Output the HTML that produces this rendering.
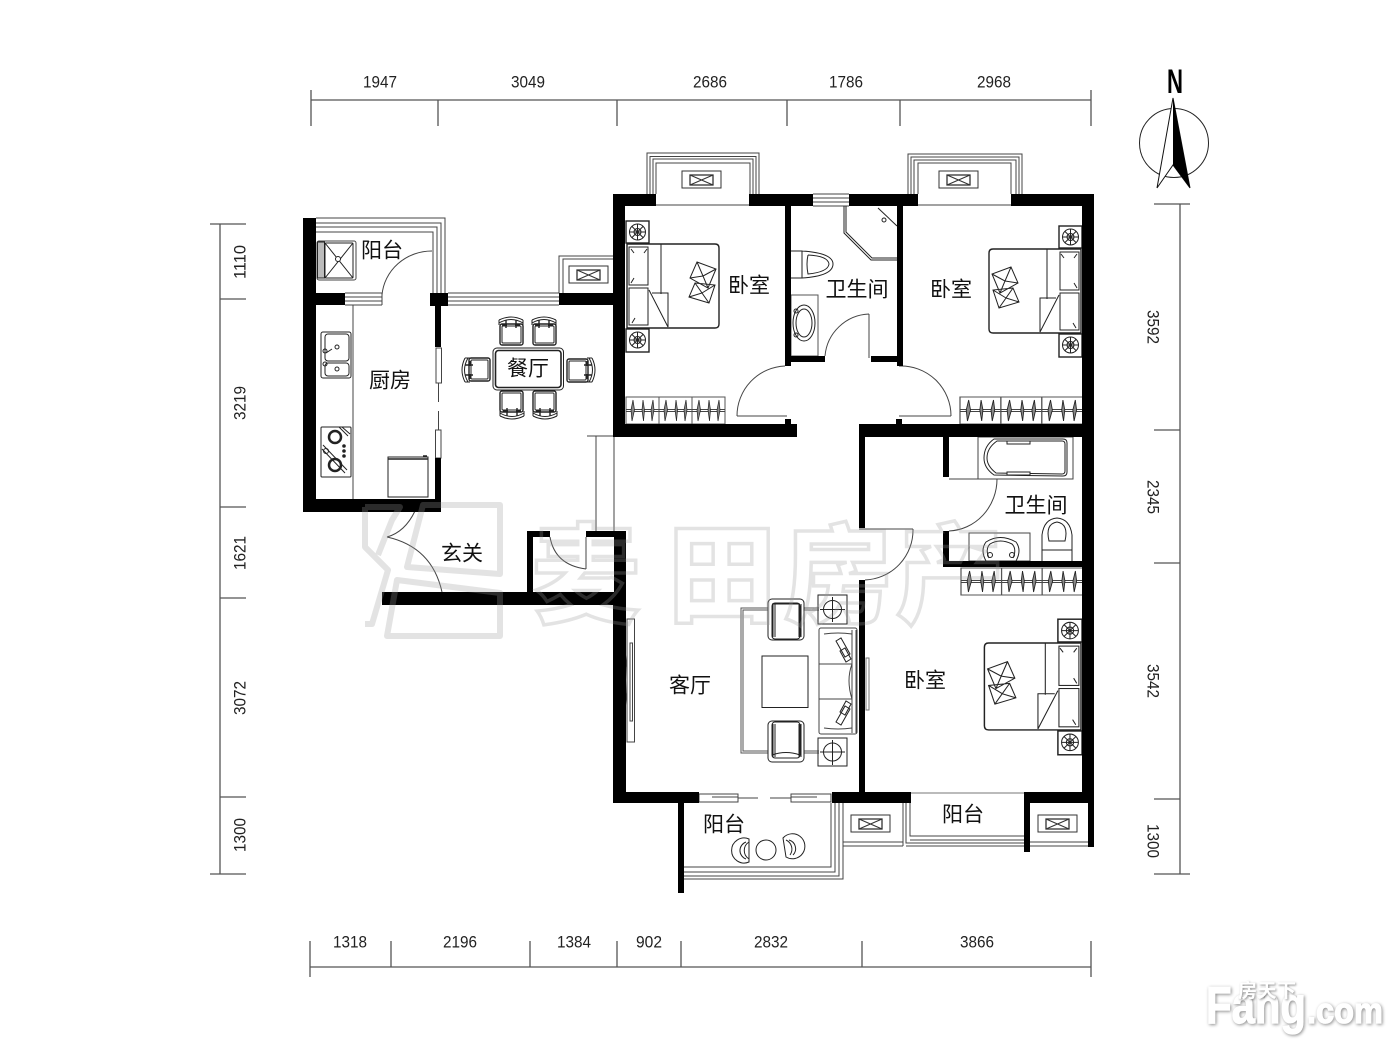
<!DOCTYPE html>
<html><head><meta charset="utf-8"><style>
html,body{margin:0;padding:0;background:#fff;width:1400px;height:1050px;overflow:hidden}
svg{display:block}
.cn{font-family:"Liberation Sans","Noto Sans CJK SC",sans-serif;font-size:21px;fill:#111;text-anchor:middle;dominant-baseline:central}
.d{font-family:"Liberation Sans",sans-serif;font-size:17px;fill:#222;text-anchor:middle;dominant-baseline:central}
</style></head><body>
<svg width="1400" height="1050" viewBox="0 0 1400 1050" xmlns="http://www.w3.org/2000/svg">
<defs>
<g id="wheel"><circle r="8" fill="none"/><circle r="3.5" fill="none"/><path d="M-8 0H8M0-8V8M-5.6-5.6L5.6 5.6M-5.6 5.6L5.6-5.6"/></g>
<g id="bed" fill="none" stroke="#222" stroke-width="1">
<path d="M0 0H88q4 0 4 4V80q0 4-4 4H0Z" stroke-width="1.4"/>
<path d="M34 0V50M22 46L41 83V49H25"/>
<rect x="2" y="3" width="19" height="38"/><rect x="2" y="44" width="19" height="37"/>
<path d="M4 5l3 4M20 5l-3 4M4 39l3-5M5 79l3-5"/>
<path d="M70 18L89 25L81 44L63 34ZM68 39L88 41L82 59L62 53ZM70 18L76 32L63 34M89 25L76 32L81 44M68 39L75 49L62 53M88 41L75 49L82 59"/>
<rect x="-1" y="-23" width="23" height="22" stroke-width="1.4"/><use href="#wheel" x="10.5" y="-12"/>
<rect x="-1" y="85" width="23" height="23" stroke-width="1.4"/><use href="#wheel" x="10.5" y="96"/>
</g>
<g id="ward" fill="#fff" stroke="#222" stroke-width="1">
<rect x="0" y="0" width="33" height="27" stroke="#555"/>
<path d="M0 12.5H33M0 14.5H33" stroke="#444"/>
<path d="M7 3l1.500 10L6 24l-1-11ZM17 3l1.500 10L17.500 24l-1.500-11ZM27 3l1 10L26 24l-1-11Z" fill="#888" stroke-width=".7"/>
</g>
<g id="chair" fill="none" stroke="#222" stroke-width="1">
<rect x="-11" y="-7" width="23" height="21" rx="2" stroke-width="1.400"/>
<rect x="-9" y="-5" width="19" height="17" rx="1"/>
<path d="M-12-8Q0-15 12-8M-12-11Q0-17 12-11M-12-11V-6M12-11V-6"/>
<path d="M-5-11V-3M5-11V-3M-9-6H-4M9-6H4" stroke-width="1.400"/>
</g>
<g id="ac" fill="#fff" stroke="#333" stroke-width="1">
<rect x="0" y="0" width="39" height="17"/>
<rect x="8" y="4" width="23" height="10" stroke-width="1.300"/>
<path d="M8 4L31 14M8 14L31 4"/>
</g>
</defs>
<!-- watermark behind nothing: drawn last below labels -->
<!-- dimensions -->
<g stroke="#555" stroke-width="1.300" fill="none">
<path d="M311 100H1091M311 90V126M438 100V126M617 100V126M787 100V126M900 100V126M1091 90V126"/>
<path d="M310 967H1091M310 941V977M391 941V967M530 941V967M617 941V967M681 941V967M862 941V967M1091 941V977"/>
<path d="M220 224V874M210 224H246M220 299H246M220 507H246M220 598H246M220 797H246M210 874H246"/>
<path d="M1180 204V874M1154 204H1190M1154 430H1180M1154 563H1180M1154 799H1180M1154 874H1190"/>
</g>
<g class="dims">
<text class="d" x="380" y="82" textLength="34" lengthAdjust="spacingAndGlyphs">1947</text><text class="d" x="528" y="82" textLength="34" lengthAdjust="spacingAndGlyphs">3049</text><text class="d" x="710" y="82" textLength="34" lengthAdjust="spacingAndGlyphs">2686</text><text class="d" x="846" y="82" textLength="34" lengthAdjust="spacingAndGlyphs">1786</text><text class="d" x="994" y="82" textLength="34" lengthAdjust="spacingAndGlyphs">2968</text>
<text class="d" x="350" y="942" textLength="34" lengthAdjust="spacingAndGlyphs">1318</text><text class="d" x="460" y="942" textLength="34" lengthAdjust="spacingAndGlyphs">2196</text><text class="d" x="574" y="942" textLength="34" lengthAdjust="spacingAndGlyphs">1384</text><text class="d" x="649" y="942" textLength="26" lengthAdjust="spacingAndGlyphs">902</text><text class="d" x="771" y="942" textLength="34" lengthAdjust="spacingAndGlyphs">2832</text><text class="d" x="977" y="942" textLength="34" lengthAdjust="spacingAndGlyphs">3866</text>
<text class="d" transform="translate(240 262) rotate(-90)" textLength="34" lengthAdjust="spacingAndGlyphs">1110</text><text class="d" transform="translate(240 403) rotate(-90)" textLength="34" lengthAdjust="spacingAndGlyphs">3219</text><text class="d" transform="translate(240 553) rotate(-90)" textLength="34" lengthAdjust="spacingAndGlyphs">1621</text><text class="d" transform="translate(240 698) rotate(-90)" textLength="34" lengthAdjust="spacingAndGlyphs">3072</text><text class="d" transform="translate(240 835) rotate(-90)" textLength="34" lengthAdjust="spacingAndGlyphs">1300</text>
<text class="d" transform="translate(1153 327) rotate(90)" textLength="34" lengthAdjust="spacingAndGlyphs">3592</text><text class="d" transform="translate(1153 497) rotate(90)" textLength="34" lengthAdjust="spacingAndGlyphs">2345</text><text class="d" transform="translate(1153 681) rotate(90)" textLength="34" lengthAdjust="spacingAndGlyphs">3542</text><text class="d" transform="translate(1153 841) rotate(90)" textLength="34" lengthAdjust="spacingAndGlyphs">1300</text>
</g>
<!-- compass -->
<circle cx="1174" cy="143" r="34.500" fill="none" stroke="#222" stroke-width="1"/>
<path d="M1173 98L1157 188L1173 165L1190 188Z" fill="#fff" stroke="#111" stroke-width="1"/>
<path d="M1173 98L1190 188L1173 165Z" fill="#000"/>
<text x="1167" y="93" style="font-family:'Liberation Sans',sans-serif;font-size:34px;font-weight:700" fill="#000" textLength="16" lengthAdjust="spacingAndGlyphs">N</text>
<!-- thin lines, rails, openings -->
<g fill="none" stroke="#444" stroke-width="1">
<path d="M316 218H445V293M316 223H441V293M316 227H437V293M316 232H433V293"/>
<path d="M345 293H382M345 297H382M345 301H382M345 305H382M382 293V305"/>
<path d="M382 295A50 48 0 0 1 432 251"/>
<path d="M448 293H559M448 297H559M448 301H559M448 305H559M559 293V256H613M563 293V259H613"/>
<use href="#ac" x="569" y="266"/>
<path d="M647 194V153H759V194M650 194V156.500H756V194M653 194V159H753V194M656 194V163H750V194M656 205H749"/>
<use href="#ac" x="682" y="171"/>
<path d="M908 194V154H1022V194M911 194V157H1019V194M914 194V160H1016V194M918 194V163H1011V194M918 205H1011"/>
<use href="#ac" x="939" y="171"/>
<path d="M813 194H849M813 198H849M813 202H849M813 206H849"/>
<path d="M353 305V499M587 436H613M596 436V531M614 436V531"/>
<rect x="436" y="348" width="5.500" height="35"/><rect x="435.500" y="430" width="5.500" height="28"/>
<path d="M438.500 383V402M438.500 411V430"/>
<path d="M737 416H787M737 416A50 50 0 0 1 785 366"/>
<path d="M951 416H899M951 416A50 50 0 0 0 899 366"/>
<path d="M869 314V358M869 314A46 46 0 0 0 825 356"/>
<path d="M949 479H997M997 479A50 52 0 0 1 949 531"/>
<path d="M859 529H913M913 529A50 50 0 0 1 865 580"/>
<path d="M393 511H415M415 511Q405 532 387 537M387 537Q432 547 442 592"/>
<path d="M586 537V569M550 537Q555 565 586 569"/>
<rect x="699" y="794" width="39" height="8"/><rect x="791" y="794" width="40" height="8"/>
<path d="M712 797H738M738 798H758M770 798H791M791 797H817"/>
<path d="M831 803V867H684M835 803V872H684M839 803V876H684M843 803V879H684"/>
<path d="M843 842H903M843 846H903M903 803V846M906 803V843H1024M910 803V836H1024M910 840H1024M906 846H1024M1030 842H1088M1030 846H1088"/>
<use href="#ac" x="851" y="815"/><use href="#ac" x="1038" y="815"/>
<path d="M911 793H1024" stroke="#777"/>
<rect x="627" y="619" width="7.500" height="123"/><rect x="630" y="643" width="2.500" height="78"/><path d="M627 655Q624 680 627 705"/>
<rect x="866" y="658" width="3" height="52" stroke="#777"/>
</g>
<!-- beds -->
<use href="#bed" x="627" y="244"/>
<use href="#bed" transform="translate(1081 249) scale(-1 1)"/>
<use href="#bed" transform="translate(1081 643) scale(-1.050 1.035)"/>
<!-- wardrobes -->
<use href="#ward" x="626" y="397"/><use href="#ward" x="659" y="397"/><use href="#ward" x="692" y="397"/>
<g transform="translate(960 397) scale(1.240 1)"><use href="#ward" x="0" y="0"/><use href="#ward" x="33" y="0"/><use href="#ward" x="66" y="0"/></g>
<g transform="translate(961 568) scale(1.230 1)"><use href="#ward" x="0" y="0"/><use href="#ward" x="33" y="0"/><use href="#ward" x="66" y="0"/></g>
<!-- dining -->
<g fill="none" stroke="#222" stroke-width="1">
<rect x="493" y="348" width="70.500" height="42" rx="4" stroke-width="1"/>
<rect x="495.500" y="350.500" width="65.500" height="37" rx="3" stroke-width="1.600"/>
</g>
<use href="#chair" transform="translate(511 331)"/>
<use href="#chair" transform="translate(544 331)"/>
<use href="#chair" transform="translate(512 405) rotate(180)"/>
<use href="#chair" transform="translate(545 405) rotate(180)"/>
<use href="#chair" transform="translate(476 370) rotate(-90)"/>
<use href="#chair" transform="translate(581 370) rotate(90)"/>
<!-- fixtures -->
<g fill="none" stroke="#222" stroke-width="1">
<rect x="317" y="241" width="39" height="39" rx="2" stroke="#444"/>
<rect x="325" y="243" width="28" height="35" rx="1"/>
<path d="M325 243L353 278M353 243L325 278"/><circle cx="338" cy="259" r="2.500" fill="#fff"/>
<rect x="317.500" y="242" width="7" height="36" fill="#bbb"/>
<rect x="321" y="332" width="30" height="46" rx="2"/>
<rect x="325" y="334" width="24" height="27" rx="3"/><rect x="325" y="363" width="24" height="13" rx="3"/>
<circle cx="337" cy="347" r="2"/><circle cx="337" cy="369" r="2"/>
<circle cx="325" cy="351" r="2"/><circle cx="325" cy="364" r="2"/><path d="M326 353L332 349"/>
<rect x="321" y="427" width="30" height="50" rx="1"/>
<circle cx="335" cy="437" r="6" stroke-width="2.500"/><circle cx="335" cy="465" r="6" stroke-width="2.500"/><circle cx="326" cy="451" r="2.500"/>
<path d="M339 427L348 436M342 427L350 434M323 445L347 470M322 449L345 473"/>
<circle cx="344" cy="446" r="1.300" fill="#222"/><circle cx="344" cy="451" r="1.300" fill="#222"/><circle cx="344" cy="456" r="1.300" fill="#222"/>
<rect x="388" y="457" width="40" height="40"/><path d="M388 459H428M423 456H427" stroke-width="1.400"/>
<path d="M791 251H802V278H791M802 251Q833 253 833 264Q833 276 802 278M808 255Q828 256 829 264Q828 272 808 274Q806 264 808 255"/>
<rect x="791" y="295" width="27" height="61" stroke="#555"/>
<ellipse cx="804" cy="323" rx="11" ry="18"/><ellipse cx="804" cy="323" rx="8" ry="14"/>
<circle cx="796" cy="311" r="2"/><circle cx="796" cy="335" r="2"/>
<path d="M844 206V233L871 260H897M846 206V232L872 258H897"/>
<path d="M878 208L897 226"/><circle cx="884" cy="220" r="2"/>
<rect x="978" y="437" width="95" height="42" stroke="#444"/>
<path d="M994 439H1063Q1067 439 1067 443V472Q1067 476 1063 476L994 475Q984 468 984 458Q984 446 994 439ZM997 441H1062Q1065 441 1065 444V471Q1065 474 1062 474L996 473Q987 466 987 458Q987 448 997 441Z"/>
<rect x="1007" y="441" width="23" height="3" fill="#fff"/><rect x="1007" y="472" width="23" height="3" fill="#fff"/>
<rect x="969" y="533" width="61" height="28" stroke="#444"/>
<path d="M986 561Q980 550 986 542Q1000 533 1016 542Q1022 550 1016 561ZM989 558Q985 549 990 544Q1000 538 1012 544Q1017 549 1013 558"/>
<circle cx="990" cy="555" r="2.500"/><circle cx="1012" cy="555" r="2.500"/>
<path d="M1042 561V535Q1044 519 1057 518Q1070 519 1072 535V561M1049 541Q1045 524 1057 522Q1069 524 1065 541ZM1042 550H1072"/>
<path d="M768 608H741V753H768M803 608H819M804 753H819M768 610H743V751H768M803 610H819M804 751H819" stroke="#555"/>
<rect x="762" y="656" width="46" height="51.500"/>
<rect x="768" y="599" width="36" height="41" rx="4" fill="#fff"/><rect x="772" y="603" width="28" height="36" rx="3"/>
<path d="M773 604V637M775 604V637M799 604V637M801 604V637M772 604H800"/>
<rect x="768" y="721" width="36" height="41" rx="4" fill="#fff"/><rect x="772" y="722" width="28" height="36" rx="3"/>
<path d="M773 724V757M775 724V757M799 724V757M801 724V757M772 755Q786 750 800 755"/>
<rect x="818" y="595" width="29" height="29"/><circle cx="832.500" cy="609.500" r="9"/><path d="M832.500 597V622M820 609.500H845"/>
<rect x="818" y="738" width="29" height="28"/><circle cx="832.500" cy="752" r="9"/><path d="M832.500 740V765M820 752H845"/>
<rect x="819" y="628" width="38" height="106" rx="2" stroke="#444"/>
<path d="M819 664H852M819 699H852M852 630V733M856 630V733" stroke="#444"/>
<path d="M824 634Q838 632 852 634M824 728Q838 730 852 728M852 664Q846 680 852 699" stroke="#444"/>
<path d="M836 641l5-3 9 16-5 3ZM840 651l5-3 6 11-5 3ZM836 722l5 3 9-16-5-3ZM840 712l5 3 6-11-5-3Z" fill="#fff"/>
<circle cx="766" cy="850" r="10"/>
<path d="M749 839A12.500 12.500 0 1 0 749 862V839ZM749 842A10 10 0 0 0 749 859M746 842A9 9 0 0 0 746 859"/>
<path d="M783 838A12.500 12.500 0 1 1 786 857L783 838ZM786 840A10 10 0 0 1 790 855M789 840A9 9 0 0 1 793 855"/>
</g>
<!-- walls -->
<g fill="#000">
<path d="M303 218H316V293H345V305H316V499H435V458H441V512H303Z"/>
<path d="M430 293H448V306H441V347H435V306H430Z"/>
<path d="M559 293H613V305H559Z"/>
<path d="M613 194H656V206H625V424H797V437H613Z"/>
<path d="M749 194H813V206H749ZM849 194H918V206H849Z"/>
<path d="M785 206H791V356H825V362H791V366H785ZM897 206H903V366H897V362H871V356H897Z"/>
<rect x="785" y="419" width="6" height="5"/><rect x="896" y="419" width="6" height="5"/>
<path d="M1011 194H1094V847H1088V803H1030V852H1024V792H1082V206H1011Z"/>
<path d="M859 424H1082V437H949V477H943V437H865V528H859Z"/>
<path d="M859 580H865V792H911V803H832V792H859Z"/>
<path d="M943 531H949V561H1082V567H943Z"/>
<path d="M613 803V605H382V592H527V531H550V537H533V592H614V537H586V531H626V792H699V803H684V893H678V803Z"/>
</g>
<!-- watermark -->
<g fill="none" stroke="#999" stroke-opacity="0.28" stroke-width="6" stroke-linejoin="round">
<path d="M423 505H500V574L407 567ZM397 580L500 593V636H387ZM365 507H400L392 520L378 555M365 507V547L388 570L372 624H365"/>
</g>
<text y="614" style="font-family:'Noto Sans CJK SC',sans-serif;font-size:108px;font-weight:900" fill="none" stroke="#999" stroke-opacity="0.28" stroke-width="3.500"><tspan x="532">麦</tspan><tspan x="668">田</tspan><tspan x="784">房</tspan><tspan x="896">产</tspan></text>
<!-- room labels -->
<text class="cn" x="382" y="251">阳台</text>
<text class="cn" x="390" y="381">厨房</text>
<text class="cn" x="528" y="369">餐厅</text>
<text class="cn" x="749" y="286">卧室</text>
<text class="cn" x="857" y="290">卫生间</text>
<text class="cn" x="951" y="290">卧室</text>
<text class="cn" x="1036" y="506">卫生间</text>
<text class="cn" x="462" y="554">玄关</text>
<text class="cn" x="690" y="686">客厅</text>
<text class="cn" x="925" y="681">卧室</text>
<text class="cn" x="724" y="825">阳台</text>
<text class="cn" x="963" y="815">阳台</text>
<!-- site logo -->
<g fill="#fff" stroke="#fff" stroke-width="1.200" style="filter:drop-shadow(1px 1px 1.500px rgba(0,0,0,.45))">
<text x="1206" y="1023" style="font-family:'Liberation Sans',sans-serif;font-size:52px;font-weight:700" textLength="100" lengthAdjust="spacingAndGlyphs">Fang</text>
<text x="1307" y="1023" style="font-family:'Liberation Sans',sans-serif;font-size:36px;font-weight:700" textLength="76" lengthAdjust="spacingAndGlyphs">.com</text>
</g>
<text x="1238" y="997" style="font-family:'Noto Sans CJK SC',sans-serif;font-size:19px;font-weight:700;filter:drop-shadow(1px 1px 1px rgba(0,0,0,.45))" fill="#fff" textLength="58">房天下</text>
</svg>
</body></html>
